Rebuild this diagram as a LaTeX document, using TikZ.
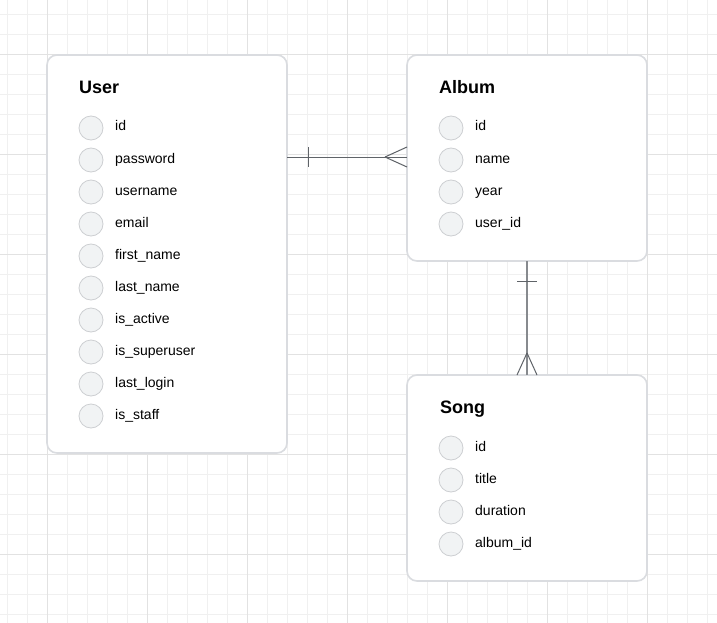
\documentclass[tikz,border=0pt]{standalone}
\usepackage{fontspec}
\setmainfont{Liberation Sans}
\definecolor{gridminor}{HTML}{F0F0F0}
\definecolor{gridmajor}{HTML}{E2E2E2}
\definecolor{boxline}{HTML}{DADCE0}
\definecolor{dotfill}{HTML}{F1F3F4}
\definecolor{dotline}{HTML}{CDCFD2}
\definecolor{conn}{HTML}{5F6368}
\definecolor{txt}{HTML}{000000}
\tikzset{
  entity/.style={draw=boxline, line width=1.6pt, fill=white, rounded corners=10pt, anchor=north west, inner sep=0pt, outer sep=0pt, minimum width=240pt},
  etitle/.style={anchor=base west, inner sep=0pt, font=\fontsize{18}{20}\selectfont\bfseries, text=txt},
  dot/.style={circle, draw=dotline, fill=dotfill, line width=0.8pt, minimum size=24pt, inner sep=0pt},
  field/.style={anchor=base west, inner sep=0pt, font=\fontsize{14}{16}\selectfont, text=txt},
  rel/.style={draw=conn, line width=1pt},
}
\begin{document}
\begin{tikzpicture}[x=1pt,y=-1pt]
\useasboundingbox (0,0) rectangle (717,623);
\fill[white] (0,0) rectangle (717,623);
% grid
\foreach \k in {0,...,35} \draw[gridminor, line width=0.8pt] (7+20*\k,0) -- (7+20*\k,623);
\foreach \k in {0,...,30} \draw[gridminor, line width=0.8pt] (0,14+20*\k) -- (717,14+20*\k);
\foreach \k in {0,...,6} \draw[gridmajor, line width=0.9pt] (47+100*\k,0) -- (47+100*\k,623);
\foreach \k in {0,...,5} \draw[gridmajor, line width=0.9pt] (0,54+100*\k) -- (717,54+100*\k);

% entities
\node[entity, minimum height=398pt] (user) at (47,55) {};
\node[entity, minimum height=206pt] (album) at (407,55) {};
\node[entity, minimum height=206pt] (song) at (407,375) {};

% User
\node[etitle] (userT) at (79,93.5) {User};
\foreach \n [count=\i from 0] in {id,password,username,email,first\_name,last\_name,is\_active,is\_superuser,last\_login,is\_staff} {
  \node[dot] (ud\i) at (91,128+32*\i) {};
  \node[field] (uf\i) at (115,131+32*\i) {\n};
}
% Album
\node[etitle] (albumT) at (439,93.5) {Album};
\foreach \n [count=\i from 0] in {id,name,year,user\_id} {
  \node[dot] (ad\i) at (451,128+32*\i) {};
  \node[field] (af\i) at (475,131+32*\i) {\n};
}
% Song
\node[etitle] (songT) at (440,413.5) {Song};
\foreach \n [count=\i from 0] in {id,title,duration,album\_id} {
  \node[dot] (sd\i) at (451,448+32*\i) {};
  \node[field] (sf\i) at (475,451+32*\i) {\n};
}

% relationships
\coordinate (r1) at (0,157);
\draw[rel] (user.east |- r1) -- (album.west |- r1);
\draw[rel] (308,147) -- (308,167);
\draw[rel] (album.west |- r1) ++(-22,0) coordinate (cf1) -- (407,147);
\draw[rel] (cf1) -- (407,167);

\draw[rel, line width=1.3pt, draw=conn!75] (album.south) -- (song.north);
\draw[rel] (517,281) -- (537,281);
\draw[rel] (song.north) ++(0,-22) coordinate (cf2) -- (517,375);
\draw[rel] (cf2) -- (537,375);
\end{tikzpicture}
\end{document}
